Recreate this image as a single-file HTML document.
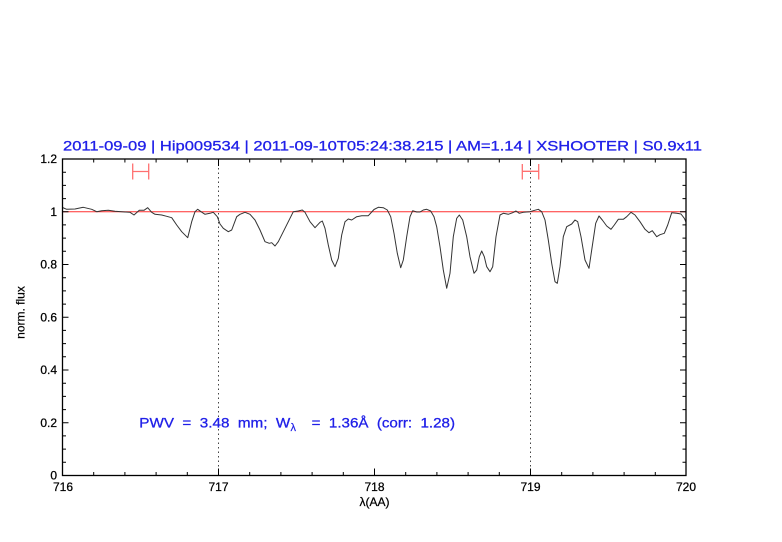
<!DOCTYPE html>
<html>
<head>
<meta charset="utf-8">
<style>
html,body{margin:0;padding:0;background:#fff;}
svg{display:block;}
text{font-family:"Liberation Sans",sans-serif;}
</style>
</head>
<body>
<svg width="782" height="542" viewBox="0 0 782 542" xmlns="http://www.w3.org/2000/svg">
<rect width="782" height="542" fill="#fff"/>
<!-- title -->
<text x="63" y="150.3" font-size="14" fill="#2020e8" stroke="#2020e8" stroke-width="0.3" textLength="639" lengthAdjust="spacingAndGlyphs">2011-09-09 | Hip009534 | 2011-09-10T05:24:38.215 | AM=1.14 | XSHOOTER | S0.9x11</text>

<!-- reference line at 1 -->
<line x1="62.5" y1="211.75" x2="686" y2="211.75" stroke="#ff3030" stroke-width="1"/>

<!-- dotted verticals -->
<line x1="218.5" y1="159" x2="218.5" y2="475.5" stroke="#444" stroke-width="1" stroke-dasharray="1.5,3"/>
<line x1="530.5" y1="159" x2="530.5" y2="475.5" stroke="#444" stroke-width="1" stroke-dasharray="1.5,3"/>

<!-- red error bars -->
<g stroke="#ff7070" stroke-width="1.3" fill="none">
<line x1="132.7" y1="171.5" x2="148.7" y2="171.5"/>
<line x1="132.7" y1="163.5" x2="132.7" y2="179.5"/>
<line x1="148.7" y1="163.5" x2="148.7" y2="179.5"/>
<line x1="522.3" y1="171.3" x2="538.7" y2="171.3"/>
<line x1="522.3" y1="164" x2="522.3" y2="179.5"/>
<line x1="538.7" y1="164" x2="538.7" y2="179.5"/>
</g>

<!-- spectrum -->
<polyline fill="none" stroke="#333" stroke-width="1" stroke-linejoin="round" points="
62.5,207.5 66.7,209.3 75,209 83.3,207.3 91.7,209.3 96.7,211.7 101.7,210.7 108.3,210.3 115,211.3 125,212 130,212.3 134,215 139.3,210.3 144,210.3 147.7,207.7 151.7,212.3 155,214.3 161.7,215 166.7,216.3 171.7,217.7 176.7,225 181.7,231.7 187.7,237.7 191.7,221.7 195,211.7 197.7,209.3 201,211.7 205,214.3 210,213.3 213.3,212.3 217.3,216.7 220,224 223.3,228.3 228.3,231.7 231.7,230 236.7,216.7 240,214.3 245,212.3 250,214.3 255,220 260,230 265,241.7 269.3,243.3 271.7,242.7 275,246 278.3,241.7 283.3,231.7 288.3,221.7 293.3,211.7 298.3,211 302.3,210 305,212.3 310,221.7 315,227.7 320,222.3 322.3,221 325,228.3 328.3,245 331.7,260 335,266.7 338.3,258.3 341.7,235 345,221.7 348.3,219 351.7,220 356.7,216.7 361.7,215.7 368.3,215.7 371.7,212 374,209.5 378.3,207.3 383.3,207.7 387.3,210 390.7,216.7 394,233.3 397.3,253.3 400.7,267.7 403.3,260 406.7,236.7 410,216.7 412.7,210.7 416.7,212 420,212 423.3,210 426.7,209.3 430.7,211 434,216.7 436.7,226.7 440,246.7 443.3,270 446.7,288.3 450,273.3 453.3,236.7 456.7,218.3 459.3,215 462.7,220 466.7,236.7 470,256.7 474,273.3 476.7,270 479.3,256.7 481.7,251 484.3,256.7 486.7,266.7 490,271.7 492.7,266.7 496,236.7 500,215 503.3,213.3 508.3,214.3 512.7,212.7 516,211 519.3,213.3 523.3,212.3 530,211.7 533.3,210.7 538.3,209.3 541.7,211.7 545,220 548.3,240 551.7,263.3 555,281.7 557.3,283.3 560,266.7 563.3,236.7 566.7,226.7 571.7,224 575,220 577.7,221.7 581,236.7 585,260 589,268.3 591.7,250 595.7,223.3 599,216 602.3,220 606.7,226 611,229.3 614.3,225 618.3,219.3 623.3,219.3 626.7,216.7 631,212.3 635,215 640,221.7 645,229.3 649,232.7 652.3,230.7 656.7,236.7 660,234.7 664.3,233.3 667.7,225 671.7,212.7 676.7,213.3 681,214 684.3,218.3 686,222"/>

<!-- axes box -->
<rect x="62.5" y="159" width="623.5" height="316.5" fill="none" stroke="#000" stroke-width="1.3"/>

<!-- x ticks -->
<g stroke="#000" stroke-width="1">
<path d="
M62.5,475.5v-7 M93.7,475.5v-3.5 M124.9,475.5v-3.5 M156.1,475.5v-3.5 M187.3,475.5v-3.5
M218.5,475.5v-7 M249.7,475.5v-3.5 M280.9,475.5v-3.5 M312.1,475.5v-3.5 M343.3,475.5v-3.5
M374.5,475.5v-7 M405.7,475.5v-3.5 M436.9,475.5v-3.5 M468.1,475.5v-3.5 M499.3,475.5v-3.5
M530.5,475.5v-7 M561.7,475.5v-3.5 M592.9,475.5v-3.5 M624.1,475.5v-3.5 M655.3,475.5v-3.5
M686,475.5v-7
M62.5,159v7 M93.7,159v3.5 M124.9,159v3.5 M156.1,159v3.5 M187.3,159v3.5
M218.5,159v7 M249.7,159v3.5 M280.9,159v3.5 M312.1,159v3.5 M343.3,159v3.5
M374.5,159v7 M405.7,159v3.5 M436.9,159v3.5 M468.1,159v3.5 M499.3,159v3.5
M530.5,159v7 M561.7,159v3.5 M592.9,159v3.5 M624.1,159v3.5 M655.3,159v3.5
"/>
<!-- y ticks -->
<path d="
M62.5,475.5h6 M62.5,462.3h3.5 M62.5,449.1h3.5 M62.5,435.9h3.5
M62.5,422.75h6 M62.5,409.6h3.5 M62.5,396.4h3.5 M62.5,383.2h3.5
M62.5,370h6 M62.5,356.8h3.5 M62.5,343.6h3.5 M62.5,330.4h3.5
M62.5,317.25h6 M62.5,304.1h3.5 M62.5,290.9h3.5 M62.5,277.7h3.5
M62.5,264.5h6 M62.5,251.3h3.5 M62.5,238.1h3.5 M62.5,224.9h3.5
M62.5,211.75h6 M62.5,198.6h3.5 M62.5,185.4h3.5 M62.5,172.2h3.5
M686,475.5h-6 M686,462.3h-3.5 M686,449.1h-3.5 M686,435.9h-3.5
M686,422.75h-6 M686,409.6h-3.5 M686,396.4h-3.5 M686,383.2h-3.5
M686,370h-6 M686,356.8h-3.5 M686,343.6h-3.5 M686,330.4h-3.5
M686,317.25h-6 M686,304.1h-3.5 M686,290.9h-3.5 M686,277.7h-3.5
M686,264.5h-6 M686,251.3h-3.5 M686,238.1h-3.5 M686,224.9h-3.5
M686,211.75h-6 M686,198.6h-3.5 M686,185.4h-3.5 M686,172.2h-3.5
"/>
</g>

<!-- y tick labels -->
<g font-size="12" fill="#000" stroke="#000" stroke-width="0.25" text-anchor="end">
<text x="57" y="479.7">0</text>
<text x="57" y="427">0.2</text>
<text x="57" y="374.2">0.4</text>
<text x="57" y="321.5">0.6</text>
<text x="57" y="268.7">0.8</text>
<text x="57" y="216">1</text>
<text x="57" y="163.2">1.2</text>
</g>

<!-- x tick labels -->
<g font-size="12" fill="#000" stroke="#000" stroke-width="0.25" text-anchor="middle">
<text x="63" y="491">716</text>
<text x="218.5" y="491">717</text>
<text x="374.5" y="491">718</text>
<text x="530.5" y="491">719</text>
<text x="686" y="491">720</text>
</g>

<!-- axis labels -->
<text x="374.5" y="506" font-size="12" fill="#000" stroke="#000" stroke-width="0.25" text-anchor="middle">λ(AA)</text>
<text transform="translate(24.5,312.5) rotate(-90)" font-size="12" fill="#000" stroke="#000" stroke-width="0.2" text-anchor="middle">norm. flux</text>

<!-- PWV annotation -->
<g font-size="14" fill="#2020e8" stroke="#2020e8" stroke-width="0.3">
<text x="139.3" y="427.3" xml:space="preserve" textLength="151" lengthAdjust="spacingAndGlyphs">PWV  =  3.48  mm;  W</text>
<text x="290.5" y="431" font-size="11" stroke-width="0.2">λ</text>
<text x="311.7" y="427.3" xml:space="preserve" textLength="143.3" lengthAdjust="spacingAndGlyphs">=  1.36Å  (corr:  1.28)</text>
</g>
</svg>
</body>
</html>
